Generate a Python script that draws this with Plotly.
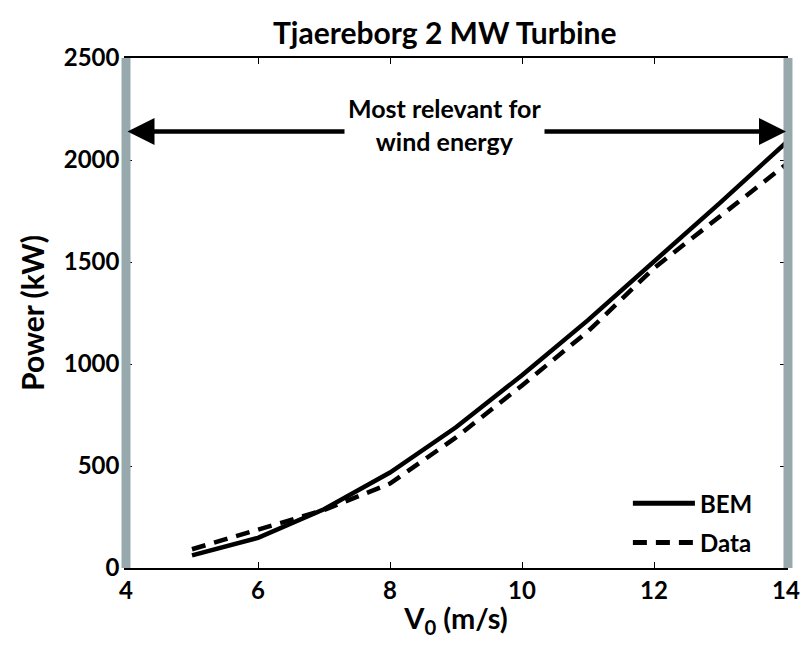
import plotly.graph_objects as go

v0 = [5, 6, 7, 8, 9, 10, 11, 12, 13, 14]
bem = [62, 148, 288, 468, 690, 945, 1215, 1500, 1790, 2085]
data = [92, 190, 284, 414, 640, 895, 1160, 1470, 1725, 1978]
xticks = [4, 6, 8, 10, 12, 14]
yticks = [0, 500, 1000, 1500, 2000, 2500]
series_names = ["BEM", "Data"]

FONT = "Lato"
W = "bold"
fig = go.Figure()
fig.add_trace(go.Scatter(x=v0, y=bem, mode="lines", name=series_names[0],
                         line=dict(color="black", width=4.5)))
fig.add_trace(go.Scatter(x=v0, y=data, mode="lines", name=series_names[1],
                         line=dict(color="black", width=4.5, dash="14px,9px")))

# gray boundary bars at x=4 and x=14
for xp in (0.0, 1.003):
    fig.add_shape(type="line", xref="paper", yref="paper", x0=xp, x1=xp, y0=0, y1=1,
                  line=dict(color="#97a9ad", width=9), layer="above")

# double-headed arrow
fig.add_annotation(x=14, y=2140, ax=4, ay=2140, xref="x", yref="y", axref="x", ayref="y",
                   text="", showarrow=True, arrowhead=2, startarrowhead=2,
                   arrowside="end+start", arrowwidth=4.5, arrowsize=1.2, startarrowsize=1.2,
                   arrowcolor="black")
fig.add_annotation(x=8.83, y=2176, xref="x", yref="y", text="Most relevant for<br>wind energy",
                   showarrow=False, bgcolor="white",
                   font=dict(family=FONT, size=25, color="black", weight=W),
                   borderpad=3)

# manual legend
leg_y = [0.127, 0.050]
for name, yy, dash in zip(series_names, leg_y, ["solid", "14px,9px"]):
    fig.add_shape(type="line", xref="paper", yref="paper", x0=0.768, x1=0.862, y0=yy, y1=yy,
                  line=dict(color="black", width=5, dash=dash))
    fig.add_annotation(x=0.866, y=yy, xref="paper", yref="paper", text=name, showarrow=False,
                       xanchor="left", yanchor="middle",
                       font=dict(family=FONT, size=24, color="black", weight=W))

fig.update_layout(
    width=803, height=652,
    margin=dict(l=126, r=17, t=58, b=84, autoexpand=False),
    paper_bgcolor="white", plot_bgcolor="white",
    title=dict(text="Tjaereborg 2 MW Turbine", xref="paper", x=0.483, xanchor="center",
               y=0.949, yanchor="middle",
               font=dict(family=FONT, size=30, color="black", weight=W)),
    font=dict(family=FONT, color="black", weight=W),
    showlegend=False,
    xaxis=dict(range=[4, 14], tickvals=xticks, ticks="inside", ticklen=6, tickcolor="black",
               showline=True, linecolor="black", linewidth=1.5, mirror="ticks", showgrid=False,
               zeroline=False, automargin=False,
               tickfont=dict(family=FONT, size=24, color="black", weight=W),
               title=dict(text="V<sub>0</sub> (m/s)",
                          font=dict(family=FONT, size=29, color="black", weight=W),
                          standoff=6)),
    yaxis=dict(range=[0, 2500], tickvals=yticks, ticks="inside", ticklen=6, tickcolor="black",
               showline=True, linecolor="black", linewidth=1.5, mirror="ticks", showgrid=False,
               zeroline=False, automargin=False,
               tickfont=dict(family=FONT, size=24, color="black", weight=W),
               title=dict(text="Power (kW)",
                          font=dict(family=FONT, size=30, color="black", weight=W),
                          standoff=10)),
)
fig.write_html("out.html")
